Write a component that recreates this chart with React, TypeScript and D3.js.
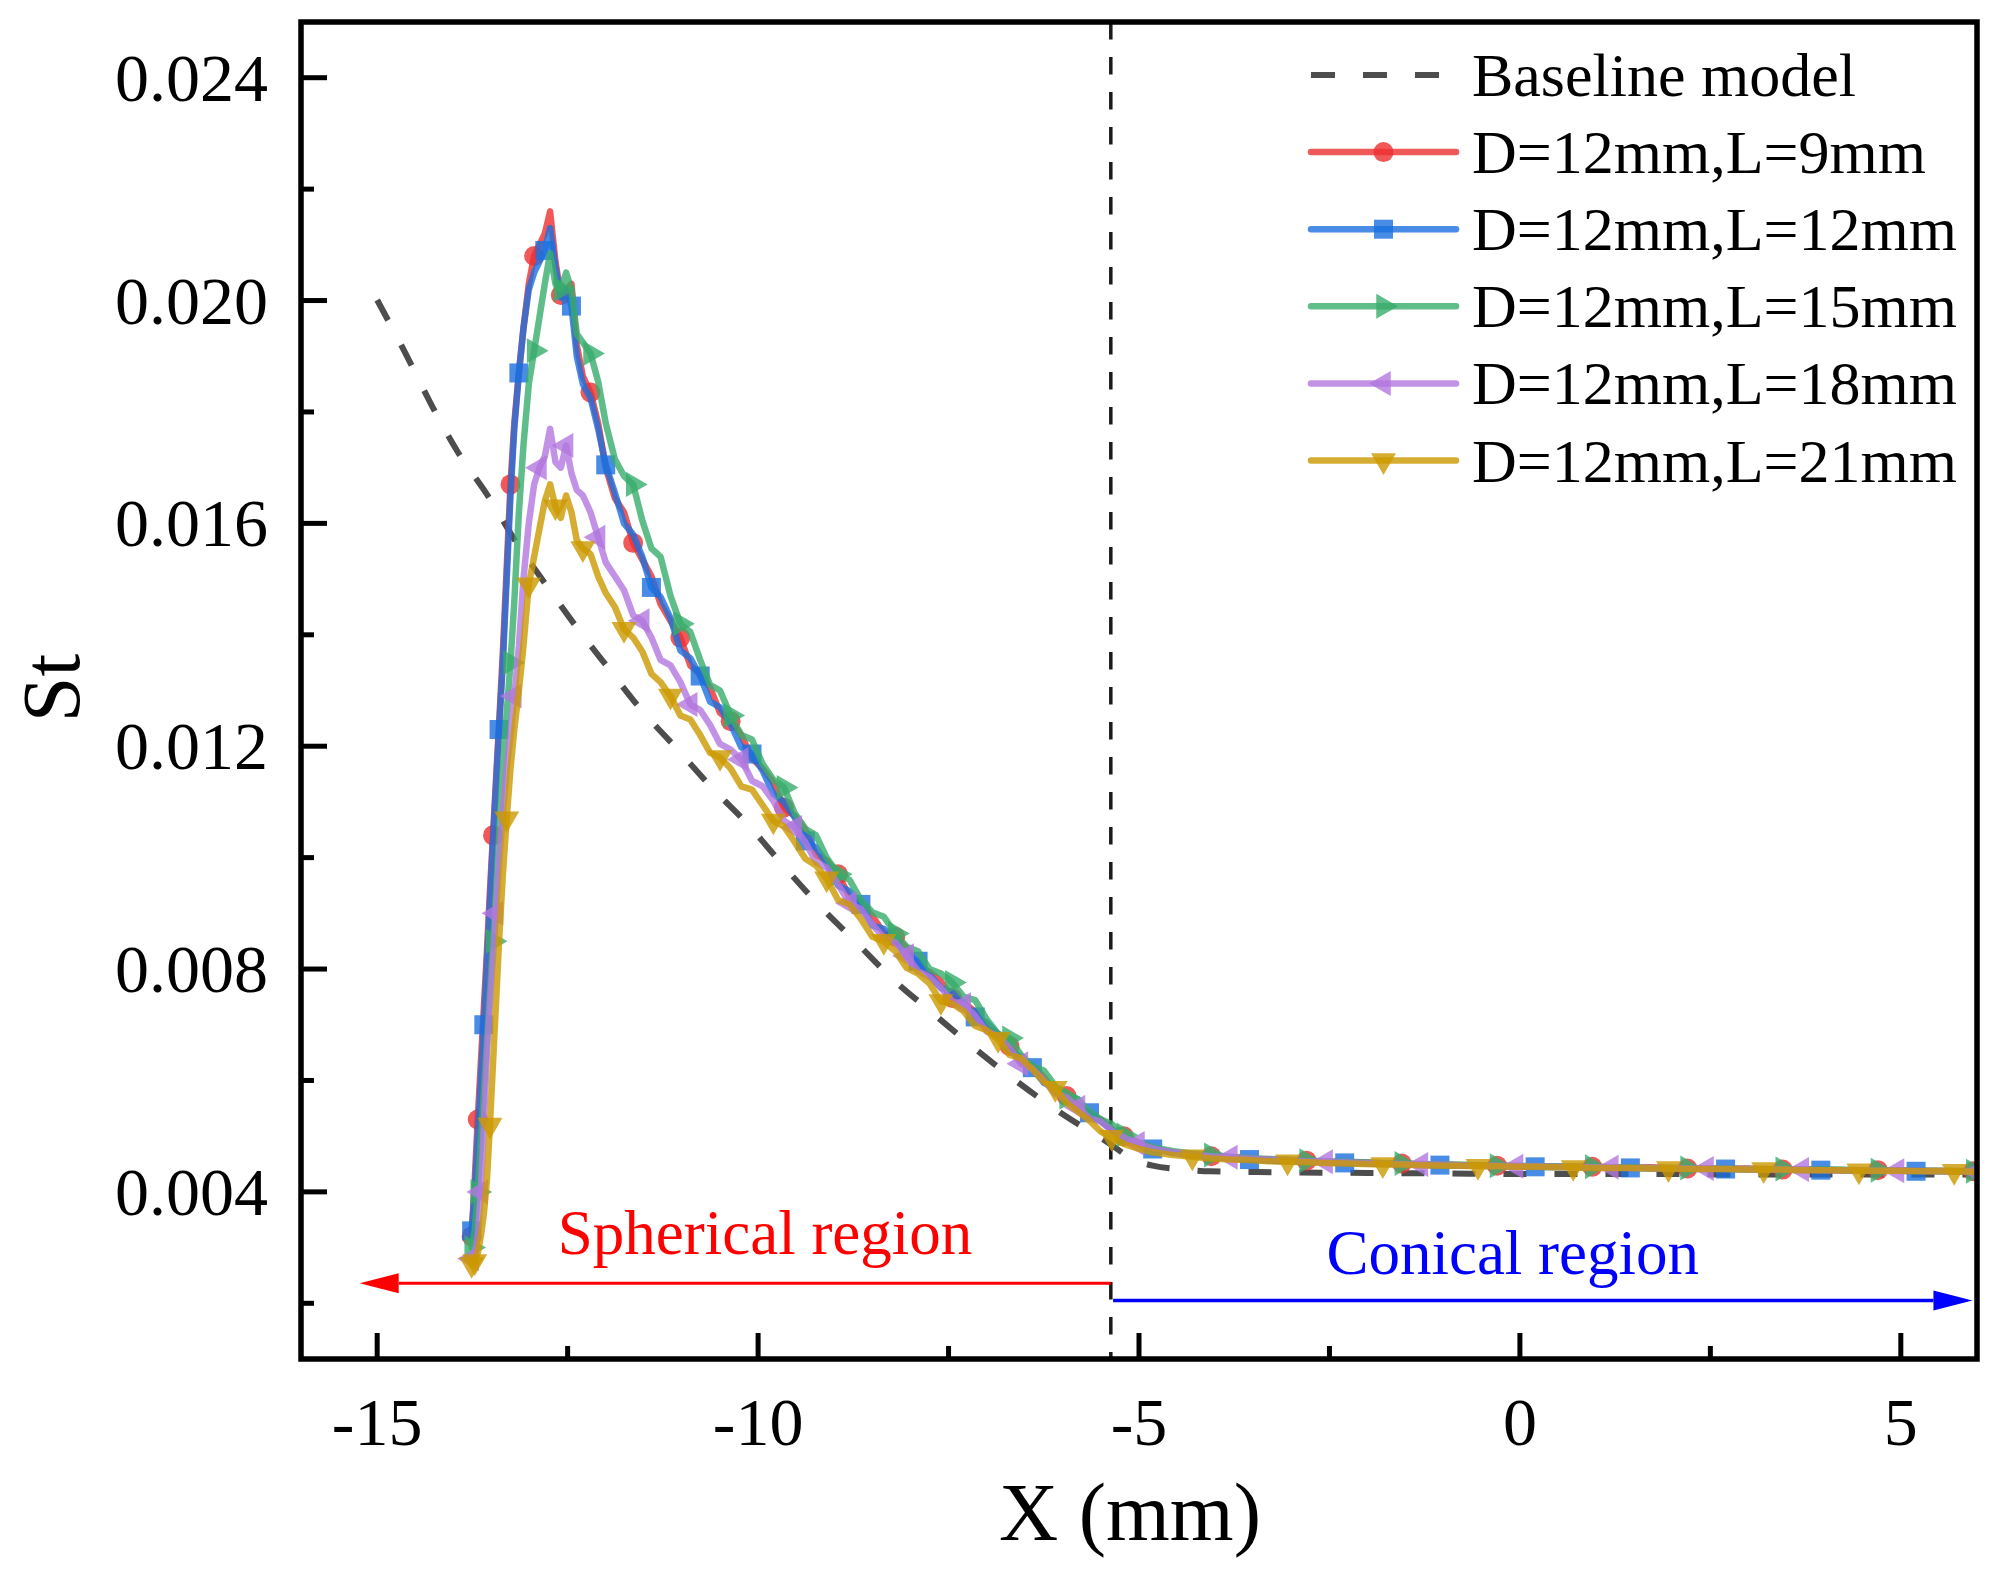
import { useEffect, useRef } from "react";
import * as d3 from "d3";

const W = 2002;
const H = 1571;
const M = { left: 301, right: 1977, top: 22, bottom: 1359 };

// sample positions along X (mm), shared by all five cases
const xGrid = [
    -13.76, -13.72, -13.68, -13.64, -13.6, -13.56, -13.52, -13.48, -13.44, -13.4,
    -13.35, -13.3, -13.25, -13.2, -13.14, -13.08, -13.01, -12.94, -12.87, -12.8,
    -12.73, -12.66, -12.59, -12.52, -12.45, -12.38, -12.3, -12.2, -12.1, -12.0,
    -11.88, -11.76, -11.64, -11.52, -11.4, -11.28, -11.15, -11.02, -10.89, -10.76,
    -10.63, -10.5, -10.36, -10.22, -10.08, -9.94, -9.8, -9.66, -9.52, -9.38,
    -9.24, -9.1, -8.95, -8.8, -8.65, -8.5, -8.35, -8.2, -8.05, -7.9,
    -7.75, -7.6, -7.45, -7.3, -7.15, -7.0, -6.85, -6.7, -6.55, -6.4,
    -6.25, -6.1, -5.95, -5.8, -5.65, -5.5, -5.36, -5.2, -5.02, -4.82,
    -4.55, -4.3, -4.05, -3.8, -3.55, -3.3, -3.05, -2.8, -2.55, -2.3,
    -2.05, -1.8, -1.55, -1.3, -1.05, -0.8, -0.55, -0.3, -0.05, 0.2,
    0.45, 0.7, 0.95, 1.2, 1.45, 1.7, 1.95, 2.2, 2.45, 2.7,
    2.95, 3.2, 3.45, 3.7, 3.95, 4.2, 4.45, 4.7, 4.95, 5.2,
    5.45, 5.7, 5.95, 6.0,
];

// St values, in units of 1e-4
const stL9 = [
    32, 42, 53, 63, 73, 83, 94, 104, 114, 124,
    137, 152, 167, 178, 187, 195, 203, 208, 210, 212,
    216, 207, 201, 202, 203, 192, 186.4, 183.5, 178.0, 170.0,
    164.5, 162.0, 156.5, 153.5, 150.5, 145.5, 142.5, 139.5, 134.5, 133.0,
    130.5, 126.0, 124.5, 122.0, 117.8, 116.0, 113.5, 109.0, 107.5, 105.0,
    100.5, 99.5, 97.0, 93.0, 92.0, 89.5, 86.5, 85.8, 83.8, 80.5,
    79.5, 77.8, 74.8, 74.0, 72.3, 69.2, 68.4, 66.2, 63.3, 62.6,
    60.6, 57.9, 57.2, 55.6, 53.7, 53.0, 51.3, 50.0, 48.8, 47.8,
    47.1, 46.7, 46.4, 46.2, 45.9, 45.8, 45.6, 45.6, 45.4, 45.3,
    45.3, 45.1, 45.1, 44.9, 44.9, 44.8, 44.8, 44.7, 44.6, 44.6,
    44.5, 44.5, 44.5, 44.4, 44.3, 44.4, 44.3, 44.2, 44.2, 44.1,
    44.2, 44.1, 44.0, 44.0, 44.0, 43.9, 43.9, 43.9, 43.8, 43.8,
    43.8, 43.7, 43.7, 43.7,
];
const stL12 = [
    33, 40, 50, 60, 70, 81, 92, 103, 113, 123,
    135, 150, 165, 177, 187, 195, 202, 205, 207, 209,
    213, 206, 200.5, 202, 199, 190, 185.0, 182.5, 177.0, 170.5,
    165.5, 160.0, 158.0, 154.0, 148.5, 146.8, 143.0, 137.2, 135.8, 132.6,
    128.0, 127.0, 124.0, 119.8, 118.6, 115.6, 111.4, 110.0, 107.2, 103.0,
    101.8, 99.0, 95.0, 94.0, 91.6, 87.8, 87.2, 85.4, 82.2, 81.4,
    79.0, 76.6, 75.8, 73.9, 71.4, 70.4, 68.2, 65.4, 64.3, 62.3,
    59.6, 58.7, 57.0, 54.6, 54.2, 52.7, 51.2, 49.8, 48.6, 47.7,
    47.0, 46.5, 46.3, 46.0, 45.8, 45.6, 45.5, 45.4, 45.3, 45.2,
    45.1, 45.0, 45.0, 44.8, 44.8, 44.7, 44.7, 44.6, 44.5, 44.5,
    44.4, 44.4, 44.4, 44.3, 44.3, 44.2, 44.2, 44.1, 44.1, 44.1,
    44.0, 44.0, 44.0, 43.9, 43.9, 43.9, 43.8, 43.8, 43.8, 43.7,
    43.7, 43.7, 43.6, 43.6,
];
const stL15 = [
    30, 33, 40, 49, 58, 67, 76, 85, 94, 104,
    116, 126, 135, 146, 162, 174, 185, 191, 197, 203,
    208.5, 203, 202, 205, 202, 194, 192.5, 190.5, 185.5, 178.0,
    171.5, 168.5, 167.0, 160.5, 155.5, 154.0, 147.0, 142.0, 140.5, 135.5,
    131.0, 130.0, 125.5, 122.0, 121.2, 116.8, 114.0, 112.6, 108.0, 105.2,
    104.0, 100.0, 97.0, 96.0, 92.4, 90.2, 89.4, 86.4, 84.0, 83.2,
    80.0, 79.2, 77.6, 75.0, 74.4, 71.0, 68.4, 67.6, 64.6, 62.6,
    61.8, 59.0, 57.0, 56.6, 54.4, 53.0, 52.2, 50.2, 49.0, 48.0,
    47.3, 46.9, 46.6, 46.3, 46.1, 45.9, 45.8, 45.6, 45.5, 45.4,
    45.3, 45.2, 45.1, 45.0, 44.9, 44.9, 44.8, 44.7, 44.7, 44.6,
    44.6, 44.5, 44.5, 44.4, 44.4, 44.3, 44.3, 44.3, 44.2, 44.2,
    44.1, 44.1, 44.1, 44.0, 44.0, 44.0, 43.9, 43.9, 43.9, 43.8,
    43.8, 43.8, 43.7, 43.7,
];
const stL18 = [
    28, 29, 32, 40, 52, 65, 74, 82, 90, 99,
    108, 116, 122, 129, 138, 150, 160, 167, 170, 172,
    177, 171, 170, 174, 169, 166, 165.0, 162.0, 157.5, 153.0,
    150.5, 148.0, 143.5, 142.5, 139.5, 135.5, 134.5, 131.5, 127.5, 126.5,
    123.8, 120.4, 119.4, 117.6, 113.8, 112.8, 110.2, 106.6, 105.4, 102.8,
    99.2, 98.2, 95.2, 91.8, 90.8, 88.0, 85.6, 84.8, 82.4, 79.6,
    78.6, 76.6, 74.2, 73.6, 71.6, 68.8, 68.0, 65.8, 63.0, 62.2,
    60.0, 57.6, 57.0, 55.2, 53.2, 52.6, 51.0, 49.8, 48.7, 47.8,
    47.1, 46.7, 46.4, 46.2, 46.0, 45.8, 45.7, 45.5, 45.4, 45.3,
    45.2, 45.1, 45.0, 44.9, 44.9, 44.8, 44.7, 44.7, 44.6, 44.6,
    44.5, 44.5, 44.4, 44.4, 44.3, 44.3, 44.2, 44.2, 44.2, 44.1,
    44.1, 44.0, 44.0, 44.0, 43.9, 43.9, 43.9, 43.8, 43.8, 43.8,
    43.7, 43.7, 43.7, 43.6,
];
const stL21 = [
    27, 27.5, 29, 32, 36, 42, 52, 63, 74, 85,
    97, 107, 116, 123, 130, 138, 149, 154, 159, 164,
    167, 163, 161, 165, 162, 157, 155.5, 154.5, 150.5, 147.5,
    145.0, 141.0, 139.5, 137.0, 133.0, 131.5, 129.0, 125.5, 124.8, 122.0,
    118.8, 118.0, 116.0, 112.8, 112.2, 109.4, 106.6, 105.6, 102.8, 99.8,
    98.6, 96.2, 92.4, 91.6, 89.0, 85.8, 85.0, 83.2, 80.2, 79.2,
    77.4, 74.2, 73.8, 72.4, 69.8, 69.0, 67.4, 64.6, 64.0, 62.0,
    59.8, 58.6, 56.0, 54.4, 52.8, 50.8, 49.8, 48.6, 47.8, 47.1,
    46.6, 46.3, 46.0, 45.8, 45.7, 45.5, 45.4, 45.3, 45.2, 45.1,
    45.0, 44.9, 44.9, 44.8, 44.7, 44.7, 44.6, 44.6, 44.5, 44.5,
    44.4, 44.4, 44.3, 44.3, 44.3, 44.2, 44.2, 44.1, 44.1, 44.1,
    44.0, 44.0, 44.0, 43.9, 43.9, 43.9, 43.8, 43.8, 43.8, 43.7,
    43.7, 43.7, 43.6, 43.6,
];

// baseline model (dashed), St in units of 1e-4
const baselineX = [
    -15.0, -14.62, -14.3, -13.95, -13.54, -13.17, -12.8, -12.39, -11.97, -11.55,
    -11.07, -10.61, -10.11, -9.69, -9.21, -8.72, -8.24, -7.7, -7.17, -6.63,
    -6.03, -5.38, -5.1, -4.82, -4.4, -4.07, -3.0, -2.0, -1.0, 0.0,
    1.0, 2.0, 3.0, 4.0, 5.0, 6.0,
];
const baselineSt = [
    200.1, 190.3, 181.6, 173.0, 164.8, 156.5, 149.3, 141.5, 134.1, 126.8,
    119.6, 112.6, 105.6, 98.9, 91.6, 84.9, 78.3, 72.0, 65.9, 60.1,
    54.2, 48.6, 46.0, 44.7, 44.0, 43.7, 43.5, 43.4, 43.3, 43.2,
    43.2, 43.2, 43.1, 43.1, 43.1, 43.1,
];

const seriesNames = [
    "D=12mm,L=9mm",
    "D=12mm,L=12mm",
    "D=12mm,L=15mm",
    "D=12mm,L=18mm",
    "D=12mm,L=21mm",
];
const seriesValues = [stL9, stL12, stL15, stL18, stL21];
const seriesColors = ["#EE3030", "#1A6FDF", "#37AD6B", "#B177DE", "#CC9900"];
const seriesSymbols = ["circle", "square", "right", "left", "down"];
const markerOffsets = [2, 4, 2, 3, 1];

const xTicks = [-15, -10, -5, 0, 5];
const xMinorTicks = [-12.5, -7.5, -2.5, 2.5];
const yTicks = [0.004, 0.008, 0.012, 0.016, 0.02, 0.024];
const yMinorTicks = [0.002, 0.006, 0.01, 0.014, 0.018, 0.022];

// region annotation (data coordinates)
const regionBoundary = -5.37;
const sphericalArrow = { tip: -15.23, st: 0.00236 };
const conicalArrow = { tip: 5.94, st: 0.00205 };
const sphericalLabel = { x: -12.63, st: 0.00288, text: "Spherical region" };
const conicalLabel = { x: -2.54, st: 0.00252, text: "Conical region" };

const FONT = "'Liberation Serif', 'Times New Roman', serif";

function symbolPath(kind: string) {
    if (kind === "circle") return d3.symbol().type(d3.symbolCircle).size(314)() as string;
    if (kind === "square") return d3.symbol().type(d3.symbolSquare).size(361)() as string;
    return d3.symbol().type(d3.symbolTriangle).size(271)() as string;
}
function symbolRotation(kind: string) {
    if (kind === "right") return 90;
    if (kind === "left") return -90;
    if (kind === "down") return 180;
    return 0;
}

function StChart() {
    const svgRef = useRef<SVGSVGElement | null>(null);

    useEffect(() => {
        if (!svgRef.current) return;
        document.body.style.margin = "0";

        const svg = d3.select(svgRef.current);
        svg.selectAll("*").remove();

        const x = d3.scaleLinear().domain([-16, 6]).range([M.left, M.right]);
        const y = d3.scaleLinear().domain([0.001, 0.025]).range([M.bottom, M.top]);

        svg.append("rect").attr("width", W).attr("height", H).attr("fill", "#fff");

        svg.append("defs")
            .append("clipPath")
            .attr("id", "plot-clip")
            .append("rect")
            .attr("x", M.left)
            .attr("y", M.top)
            .attr("width", M.right - M.left)
            .attr("height", M.bottom - M.top);

        const plot = svg.append("g").attr("clip-path", "url(#plot-clip)");

        // boundary between spherical and conical regions
        plot.append("line")
            .attr("x1", x(regionBoundary))
            .attr("x2", x(regionBoundary))
            .attr("y1", M.top)
            .attr("y2", M.bottom)
            .attr("stroke", "#1a1a1a")
            .attr("stroke-width", 3.5)
            .attr("stroke-dasharray", "17.5 17.5");

        const line = d3
            .line<[number, number]>()
            .x((d) => x(d[0]))
            .y((d) => y(d[1]));

        // baseline model
        const basePts = baselineX.map((v, i) => [v, baselineSt[i] * 1e-4] as [number, number]);
        plot.append("path")
            .datum(basePts)
            .attr("d", line.curve(d3.curveMonotoneX) as any)
            .attr("fill", "none")
            .attr("stroke", "#4d4d4d")
            .attr("stroke-width", 6)
            .attr("stroke-dasharray", "23 28");

        line.curve(d3.curveLinear);

        // cases
        seriesValues.forEach((vals, k) => {
            const pts = xGrid.map((v, i) => [v, vals[i] * 1e-4] as [number, number]);
            const g = plot.append("g");
            g.append("path")
                .datum(pts)
                .attr("d", line as any)
                .attr("fill", "none")
                .attr("stroke", seriesColors[k])
                .attr("stroke-opacity", 0.8)
                .attr("stroke-width", 6.5)
                .attr("stroke-linejoin", "round")
                .attr("stroke-linecap", "round");

            const marked = pts.filter((_, i) => i === 0 || i % 5 === markerOffsets[k]);
            g.selectAll("path.mk")
                .data(marked)
                .enter()
                .append("path")
                .attr("class", "mk")
                .attr("d", symbolPath(seriesSymbols[k]))
                .attr(
                    "transform",
                    (d) => `translate(${x(d[0])},${y(d[1])}) rotate(${symbolRotation(seriesSymbols[k])})`
                )
                .attr("fill", seriesColors[k])
                .attr("fill-opacity", 0.8);
        });

        // region arrows
        const arrow = (fromX: number, tipX: number, st: number, color: string, width: number) => {
            const yy = y(st);
            const tip = x(tipX);
            const dir = tipX < fromX ? -1 : 1;
            const headLen = 39;
            plot.append("line")
                .attr("x1", x(fromX))
                .attr("x2", tip - dir * headLen)
                .attr("y1", yy)
                .attr("y2", yy)
                .attr("stroke", color)
                .attr("stroke-width", width);
            plot.append("path")
                .attr(
                    "d",
                    `M${tip},${yy}L${tip - dir * headLen},${yy - 10}L${tip - dir * headLen},${yy + 10}Z`
                )
                .attr("fill", color);
        };
        arrow(regionBoundary, sphericalArrow.tip, sphericalArrow.st, "#ff0000", 3);
        arrow(regionBoundary + 0.03, conicalArrow.tip, conicalArrow.st, "#0000ff", 3.3);

        plot.append("text")
            .attr("x", x(sphericalLabel.x))
            .attr("y", y(sphericalLabel.st))
            .attr("font-family", FONT)
            .attr("font-size", 63)
            .attr("fill", "#ff0000")
            .text(sphericalLabel.text);
        plot.append("text")
            .attr("x", x(conicalLabel.x))
            .attr("y", y(conicalLabel.st))
            .attr("font-family", FONT)
            .attr("font-size", 63)
            .attr("fill", "#0000ff")
            .text(conicalLabel.text);

        // frame
        svg.append("rect")
            .attr("x", M.left)
            .attr("y", M.top)
            .attr("width", M.right - M.left)
            .attr("height", M.bottom - M.top)
            .attr("fill", "none")
            .attr("stroke", "#000")
            .attr("stroke-width", 5.5);

        // ticks (inward)
        const ticks = svg.append("g").attr("stroke", "#000").attr("stroke-width", 5);
        yTicks.forEach((t) =>
            ticks.append("line").attr("x1", M.left).attr("x2", M.left + 26).attr("y1", y(t)).attr("y2", y(t))
        );
        yMinorTicks.forEach((t) =>
            ticks.append("line").attr("x1", M.left).attr("x2", M.left + 13).attr("y1", y(t)).attr("y2", y(t))
        );
        xTicks.forEach((t) =>
            ticks.append("line").attr("x1", x(t)).attr("x2", x(t)).attr("y1", M.bottom).attr("y2", M.bottom - 26)
        );
        xMinorTicks.forEach((t) =>
            ticks.append("line").attr("x1", x(t)).attr("x2", x(t)).attr("y1", M.bottom).attr("y2", M.bottom - 13)
        );

        // tick labels
        svg.append("g")
            .selectAll("text")
            .data(yTicks)
            .enter()
            .append("text")
            .attr("x", 268)
            .attr("y", (d) => y(d))
            .attr("dy", "0.34em")
            .attr("text-anchor", "end")
            .attr("font-family", FONT)
            .attr("font-size", 68)
            .text((d) => d3.format(".3f")(d));

        svg.append("g")
            .selectAll("text")
            .data(xTicks)
            .enter()
            .append("text")
            .attr("x", (d) => x(d))
            .attr("y", 1445)
            .attr("text-anchor", "middle")
            .attr("font-family", FONT)
            .attr("font-size", 68)
            .text((d) => String(d));

        // axis titles
        svg.append("text")
            .attr("transform", "translate(79,688) rotate(-90)")
            .attr("text-anchor", "middle")
            .attr("font-family", FONT)
            .attr("font-size", 82)
            .text("St");
        svg.append("text")
            .attr("x", 1130)
            .attr("y", 1540)
            .attr("text-anchor", "middle")
            .attr("font-family", FONT)
            .attr("font-size", 82)
            .text("X (mm)");

        // legend
        const legend = svg.append("g");
        const rowY = (i: number) => 75 + i * 77.1;
        const lx1 = 1311;
        const lx2 = 1456;
        const lmx = 1383.5;
        const tx = 1472;

        legend.append("line")
            .attr("x1", lx1)
            .attr("x2", lx2)
            .attr("y1", rowY(0))
            .attr("y2", rowY(0))
            .attr("stroke", "#4d4d4d")
            .attr("stroke-width", 6)
            .attr("stroke-dasharray", "24 28");
        legend.append("text")
            .attr("x", tx)
            .attr("y", rowY(0))
            .attr("dy", "0.34em")
            .attr("font-family", FONT)
            .attr("font-size", 62)
            .text("Baseline model");

        seriesNames.forEach((name, k) => {
            const yy = rowY(k + 1);
            legend.append("line")
                .attr("x1", lx1)
                .attr("x2", lx2)
                .attr("y1", yy)
                .attr("y2", yy)
                .attr("stroke", seriesColors[k])
                .attr("stroke-opacity", 0.8)
                .attr("stroke-width", 6.5)
                .attr("stroke-linecap", "round");
            legend.append("path")
                .attr("d", symbolPath(seriesSymbols[k]))
                .attr("transform", `translate(${lmx},${yy}) rotate(${symbolRotation(seriesSymbols[k])})`)
                .attr("fill", seriesColors[k])
                .attr("fill-opacity", 0.8);
            legend.append("text")
                .attr("x", tx)
                .attr("y", yy)
                .attr("dy", "0.34em")
                .attr("font-family", FONT)
                .attr("font-size", 62)
                .text(name);
        });
    }, []);

    return <svg ref={svgRef} width={W} height={H} style={{ display: "block" }} />;
}

export default function App() {
    return <StChart />;
}
